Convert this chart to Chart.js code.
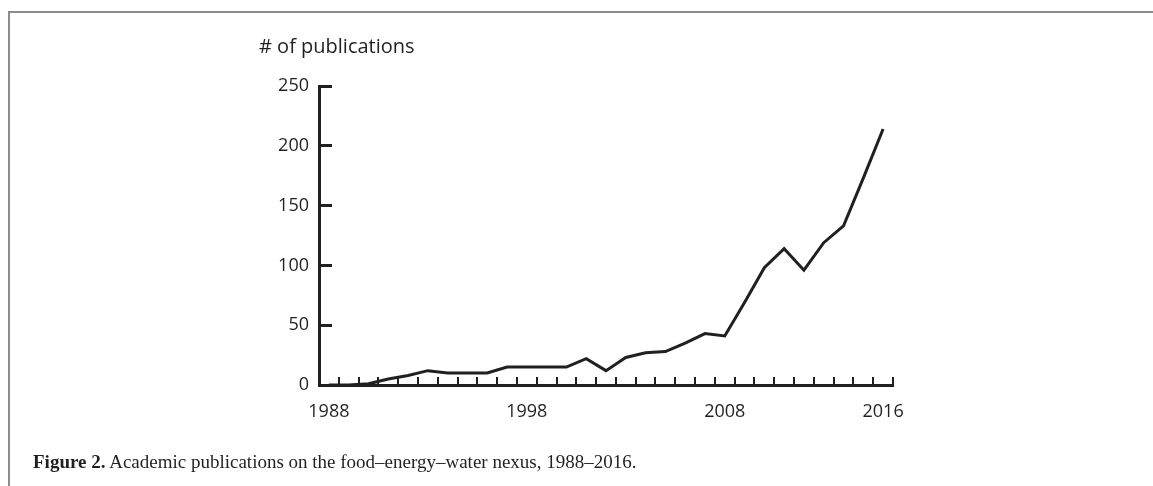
<!DOCTYPE html>
<html>
<head>
<meta charset="utf-8">
<script src="https://cdn.jsdelivr.net/npm/chart.js@4/dist/chart.umd.min.js"></script>
<style>
  html, body { margin: 0; padding: 0; background: #fff; }
  #wrap { position: relative; width: 1153px; height: 486px; overflow: hidden; background: #fff; }
  #frame {
    position: absolute; left: 8px; top: 11px; right: -10px; bottom: -10px;
    border-top: 2px solid #8c8c8c; border-left: 2px solid #8c8c8c;
  }
  #chart { position: absolute; left: 0; top: 0; }
  #ytitle {
    position: absolute; left: 259px; top: 32px;
    font: 20px "Open Sans", sans-serif; color: #231f20; white-space: nowrap;
  }
  #caption {
    position: absolute; left: 33px; top: 451px;
    font: 19px "Liberation Serif", serif; color: #231f20; white-space: nowrap;
  }
</style>
</head>
<body>
<div id="wrap">
  <div id="frame"></div>
  <canvas id="chart" width="1153" height="486"></canvas>
  <div id="ytitle"># of publications</div>
  <div id="caption"><b>Figure 2.</b> Academic publications on the food–energy–water nexus, 1988–2016.</div>
</div>
<script>
  // ---- data ----
  const years = [
    '1988', '1989', '1990', '1991', '1992', '1993', '1994', '1995', '1996', '1997',
    '1998', '1999', '2000', '2001', '2002', '2003', '2004', '2005', '2006', '2007',
    '2008', '2009', '2010', '2011', '2012', '2013', '2014', '2015', '2016',
  ];
  const publications = [
    0, 0, 1, 5, 8, 12, 10, 10, 10, 15,
    15, 15, 15, 22, 12, 23, 27, 28, 35, 43,
    41, 69, 98, 114, 96, 119, 133, 173, 214,
  ];
  const shownYears = ['1988', '1998', '2008', '2016'];
  const yTicks = { min: 0, max: 250, step: 50 };

  const INK = '#231f20';
  const FONT = { family: '"Open Sans", sans-serif', size: 18 };

  new Chart(document.getElementById('chart'), {
    type: 'line',
    data: {
      labels: years,
      datasets: [{
        data: publications,
        borderColor: INK,
        borderWidth: 3,
        pointRadius: 0,
        tension: 0,
        fill: false,
      }],
    },
    options: {
      responsive: false,
      animation: false,
      events: [],
      layout: { padding: { left: 259, right: 260, top: 86, bottom: 61 } },
      plugins: { legend: { display: false }, tooltip: { enabled: false } },
      scales: {
        x: {
          type: 'category',
          offset: true,
          afterFit: (s) => { s.height = 40; },
          border: { display: true, color: INK, width: 3 },
          grid: {
            offset: true,
            drawOnChartArea: false,
            drawTicks: true,
            tickLength: -8,
            color: INK,
            lineWidth: 2,
          },
          ticks: {
            autoSkip: false,
            maxRotation: 0,
            minRotation: 0,
            padding: 24,
            color: INK,
            font: FONT,
            callback: function (v) {
              const lab = this.getLabelForValue(v);
              return shownYears.includes(lab) ? lab : '';
            },
          },
        },
        y: {
          min: yTicks.min,
          max: yTicks.max,
          afterFit: (s) => { s.width = 60; },
          border: { display: true, color: INK, width: 3 },
          grid: {
            drawOnChartArea: false,
            drawTicks: true,
            tickLength: -13,
            color: INK,
            lineWidth: 3,
          },
          ticks: {
            stepSize: yTicks.step,
            padding: 23,
            color: INK,
            font: FONT,
          },
        },
      },
    },
  });
</script>
</body>
</html>
